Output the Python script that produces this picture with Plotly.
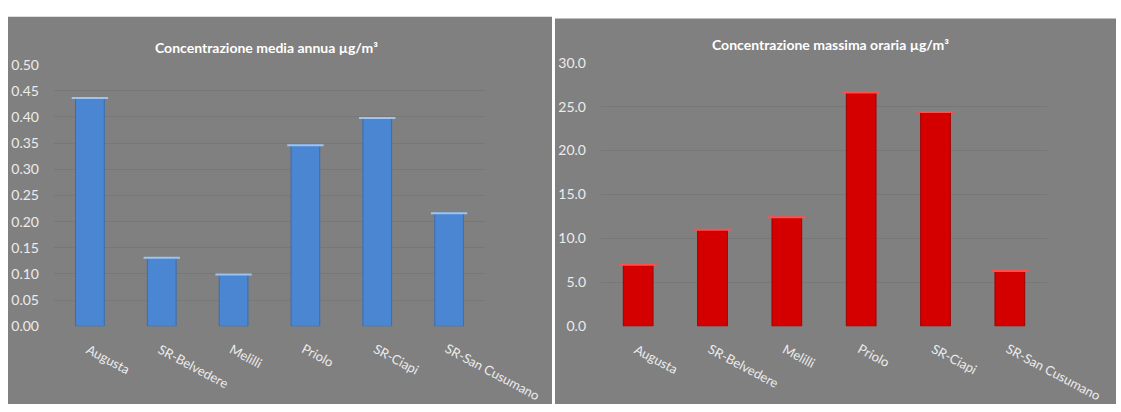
import plotly.graph_objects as go

categories = ["Augusta", "SR-Belvedere", "Melilli", "Priolo", "SR-Ciapi", "SR-San Cusumano"]
media_annua = [0.436, 0.131, 0.099, 0.346, 0.398, 0.216]
massima_oraria = [7.0, 11.0, 12.4, 26.6, 24.4, 6.3]
title_left = "<b>Concentrazione media annua µg/m³</b>"
title_right = "<b>Concentrazione massima oraria µg/m³</b>"
ticks_left = [0, 0.05, 0.10, 0.15, 0.20, 0.25, 0.30, 0.35, 0.40, 0.45, 0.50]
ticks_right = [0, 5, 10, 15, 20, 25, 30]

W, H = 1121, 412
def px(x):
    return x / W
def py(y):
    return 1 - y / H

PANEL = "#808080"
PLOT = "#3b3b3b"
GRID = "#777777"
TXT = "#ececec"
FONT = "Lato"

fig = go.Figure()
fig.add_trace(go.Bar(x=categories, y=media_annua, marker=dict(color="#4a86d2", line=dict(color="#3a6eb0", width=1)),
                     xaxis="x", yaxis="y", showlegend=False))
fig.add_trace(go.Scatter(x=categories, y=media_annua, mode="markers", marker=dict(symbol="line-ew", size=26, line=dict(color="#9cc4f2", width=2)),
                         xaxis="x", yaxis="y", showlegend=False, hoverinfo="skip"))
fig.add_trace(go.Bar(x=categories, y=massima_oraria, marker=dict(color="#d40000", line=dict(color="#a00000", width=1)),
                     xaxis="x2", yaxis="y2", showlegend=False))
fig.add_trace(go.Scatter(x=categories, y=massima_oraria, mode="markers", marker=dict(symbol="line-ew", size=27, line=dict(color="#ff5050", width=2)),
                         xaxis="x2", yaxis="y2", showlegend=False, hoverinfo="skip"))

y_font = dict(family=FONT, size=14, color=TXT)
x_font = dict(family=FONT, size=13, color=TXT)

# category labels drawn as rotated annotations anchored on the category axis positions
cat_labels = []
for xr in ("x", "x2"):
    for i, c in enumerate(categories):
        cat_labels.append(dict(text=c, xref=xr, yref="paper", x=i, y=py(343), xanchor="left", yanchor="top",
                               textangle=28, xshift=-9, showarrow=False, font=x_font))

n = len(categories)
fig.update_layout(
    width=W, height=H,
    margin=dict(l=0, r=0, t=0, b=0),
    paper_bgcolor="white",
    plot_bgcolor=PLOT,
    bargap=0.6,
    font=dict(family=FONT, color=TXT),
    xaxis=dict(domain=[px(54), px(485)], anchor="y", showticklabels=False, type="category",
               categoryorder="array", categoryarray=categories, range=[-0.5, n - 0.5], autorange=False,
               showgrid=False, showline=False, ticks=""),
    yaxis=dict(domain=[py(331), py(58)], anchor="x", range=[0, 0.5], tickvals=ticks_left,
               tickformat=".2f", tickfont=y_font, gridcolor=GRID, gridwidth=1,
               zeroline=False, showline=False, ticks="", ticklabelstandoff=14),
    xaxis2=dict(domain=[px(601), px(1047)], anchor="y2", showticklabels=False, type="category",
                categoryorder="array", categoryarray=categories, range=[-0.5, n - 0.5], autorange=False,
                showgrid=False, showline=False, ticks=""),
    yaxis2=dict(domain=[py(331), py(56)], anchor="x2", range=[0, 30], tickvals=ticks_right,
                tickformat=".1f", tickfont=y_font, gridcolor=GRID, gridwidth=1,
                zeroline=False, showline=False, ticks="", ticklabelstandoff=14),
    shapes=[
        dict(type="rect", xref="paper", yref="paper", x0=px(8), x1=px(552), y0=0, y1=py(8),
             fillcolor=PANEL, line=dict(width=0), layer="below"),
        dict(type="rect", xref="paper", yref="paper", x0=px(555), x1=px(1116), y0=0, y1=py(10),
             fillcolor=PANEL, line=dict(width=0), layer="below"),
    ],
    annotations=[
        dict(text=title_left, xref="paper", yref="paper", x=px(266), y=py(40), showarrow=False,
             font=dict(family=FONT, size=14, color="white"), xanchor="center", yanchor="middle"),
        dict(text=title_right, xref="paper", yref="paper", x=px(830), y=py(37), showarrow=False,
             font=dict(family=FONT, size=14, color="white"), xanchor="center", yanchor="middle"),
    ] + cat_labels,
)

fig.write_html("out.html")
